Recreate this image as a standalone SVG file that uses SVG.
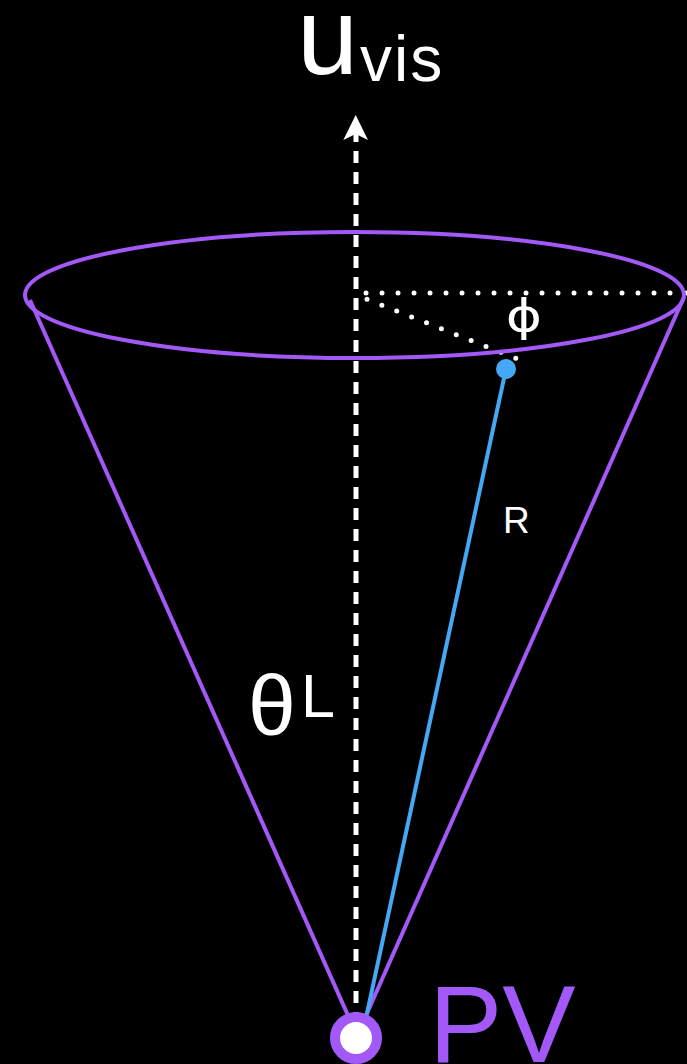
<svg xmlns="http://www.w3.org/2000/svg" width="687" height="1064" viewBox="0 0 687 1064">
<style>
.purple{stroke:#A259F7;fill:none;stroke-width:4}
.lbl{font-family:"Liberation Sans",Arial,sans-serif;fill:#ffffff}
.dots{stroke:#ffffff;stroke-width:5;stroke-linecap:round;stroke-dasharray:0 16;fill:none}
</style>
<rect width="687" height="1064" fill="#000000"/>
<g id="connectors">
<line class="purple" x1="30" y1="300" x2="350" y2="1020"/>
<line class="purple" x1="684" y1="297" x2="364" y2="1020"/>
<line x1="356" y1="130" x2="356" y2="1016" stroke="#ffffff" stroke-width="5" stroke-dasharray="12 9"/>
<path d="M355.7 115 L368 140 L355.7 134 L343.3 140 Z" fill="#ffffff"/>
<line x1="366" y1="293" x2="687" y2="293" class="dots"/>
<line x1="367" y1="299.3" x2="516" y2="358.3" class="dots"/>
<line x1="506" y1="369" x2="366" y2="1018" stroke="#44A8F5" stroke-width="4"/>
</g>
<g id="cone-rim">
<ellipse class="purple" cx="354.5" cy="295" rx="329.5" ry="63" stroke-width="5"/>
</g>
<g id="point">
<circle cx="506" cy="369" r="10" fill="#44A8F5"/>
</g>
<g id="pv">
<circle cx="356" cy="1038" r="21" fill="#ffffff" stroke="#A259F7" stroke-width="10"/>
<text x="429" y="1062" font-family="Liberation Sans, Arial, sans-serif" font-size="110" fill="#A259F7">PV</text>
</g>
<g id="labels">
<text class="lbl" x="297" y="74" font-size="110">u</text>
<text class="lbl" x="360" y="81" font-size="64" letter-spacing="2">vis</text>
<text transform="translate(524 331) scale(1.25 1)" x="0" y="0" font-size="44" text-anchor="middle" font-family="DejaVu Sans, sans-serif" fill="#ffffff">ϕ</text>
<text class="lbl" x="503" y="533" font-size="37">R</text>
<text class="lbl" x="248" y="735" font-size="86">θ</text>
<text class="lbl" x="301" y="717" font-size="61">L</text>
</g>
</svg>
